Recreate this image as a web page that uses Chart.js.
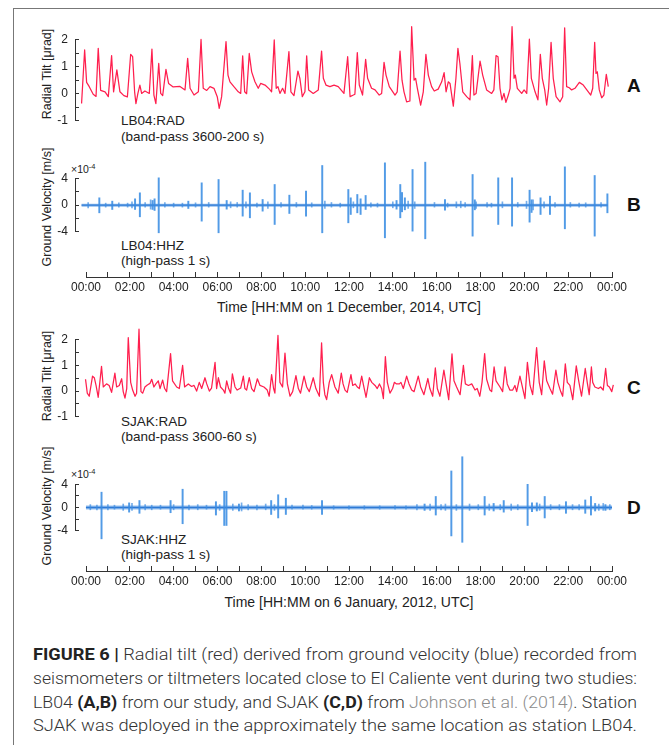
<!DOCTYPE html>
<html>
<head>
<meta charset="utf-8">
<script src="https://cdn.jsdelivr.net/npm/chart.js@4.4.1/dist/chart.umd.min.js"></script>
<style>
  html, body { margin: 0; padding: 0; }
  body { width: 669px; height: 745px; overflow: hidden; background: #fff; position: relative;
         font-family: "Liberation Sans", Arial, Helvetica, sans-serif; color: #222; }
  .frame { position: absolute; left: 13px; top: 8px; width: 720px; height: 800px;
           border-left: 1px solid #777; border-top: 1px solid #777; }
  canvas { position: absolute; left: 0; }
  .lbl { position: absolute; white-space: nowrap; line-height: 1; transform: translateY(-50%); font-size: 13.5px; color: #222; }
  .panel { position: absolute; font-weight: bold; font-size: 19px; line-height: 1; transform: translateY(-50%); color: #111; }
  .exp { position: absolute; font-size: 10.5px; line-height: 1; transform: translateY(-50%); color: #222; }
  .exp sup { font-size: 7.5px; vertical-align: 4px; }
  .ytitle { position: absolute; white-space: nowrap; line-height: 1; font-size: 12.5px; color: #222;
            transform: translate(-50%, -50%) rotate(-90deg); }
  .xtitle { position: absolute; white-space: nowrap; line-height: 1; font-size: 14px; color: #222;
            transform: translate(-50%, -50%); }
  .cap { position: absolute; left: 33px; white-space: nowrap; font-size: 17px; line-height: 1; color: #333;
         font-family: Roboto, "Liberation Sans", Arial, sans-serif; font-weight: 300;
         transform-origin: 0 50%; }
  .cap b { font-weight: bold; color: #222; }
  .cap .ref { color: #8c8c8c; }
</style>
</head>
<body>
<div class="frame"></div>

<div class="ytitle" style="left:47px;top:74px">Radial Tilt [μrad]</div>
<div class="ytitle" style="left:47px;top:207px">Ground Velocity [m/s]</div>
<div class="ytitle" style="left:47px;top:376px">Radial Tilt [μrad]</div>
<div class="ytitle" style="left:47px;top:506px">Ground Velocity [m/s]</div>

<div class="xtitle" style="left:349px;top:307px">Time [HH:MM on 1 December, 2014, UTC]</div>
<div class="xtitle" style="left:349px;top:602px">Time [HH:MM on 6 January, 2012, UTC]</div>

<div class="lbl" style="left:121px;top:120.5px">LB04:RAD</div>
<div class="lbl" style="left:121px;top:136.5px">(band-pass 3600-200 s)</div>
<div class="lbl" style="left:121px;top:246px">LB04:HHZ</div>
<div class="lbl" style="left:121px;top:261px">(high-pass 1 s)</div>
<div class="lbl" style="left:121px;top:421.5px">SJAK:RAD</div>
<div class="lbl" style="left:121px;top:437px">(band-pass 3600-60 s)</div>
<div class="lbl" style="left:121px;top:539.5px">SJAK:HHZ</div>
<div class="lbl" style="left:121px;top:555px">(high-pass 1 s)</div>

<div class="panel" style="left:627px;top:85px">A</div>
<div class="panel" style="left:627px;top:204px">B</div>
<div class="panel" style="left:627px;top:387px">C</div>
<div class="panel" style="left:627px;top:507px">D</div>

<div class="exp" style="left:71px;top:169px">×10<sup>-4</sup></div>
<div class="exp" style="left:71px;top:474px">×10<sup>-4</sup></div>

<div class="cap" style="top:646px"><b>FIGURE 6 |</b> Radial tilt (red) derived from ground velocity (blue) recorded from</div>
<div class="cap" style="top:670px">seismometers or tiltmeters located close to El Caliente vent during two studies:</div>
<div class="cap" style="top:693.5px">LB04 <b>(A,B)</b> from our study, and SJAK <b>(C,D)</b> from <span class="ref">Johnson et al. (2014)</span>. Station</div>
<div class="cap" style="top:717px">SJAK was deployed in the approximately the same location as station LB04.</div>

<script>
// ---- Radial tilt, LB04 (hours after 00:00 UTC, µrad) ----
const tiltA = [
  [-0.2,-0.36],[-0.06,1.62],[0.03,0.42],[0.15,0.26],[0.33,-0.02],[0.46,-0.1],[0.56,1.68],[0.67,0.12],[0.87,0.07],
  [1.02,-0.11],[1.17,1.41],[1.26,0.07],[1.41,0.88],[1.55,0.07],[1.73,-0.07],[1.89,-0.12],[2.04,1.46],[2.13,1.37],
  [2.22,0.07],[2.28,-0.37],[2.37,0.01],[2.46,0.32],[2.54,0.01],[2.69,0.1],[2.89,0.01],[3.01,1.65],[3.10,-0.05],
  [3.19,-0.37],[3.32,1.12],[3.41,0.01],[3.50,-0.07],[3.65,0.9],[3.77,0.38],[3.98,0.25],[4.29,0.27],[4.52,0.14],
  [4.64,1.31],[4.75,0.2],[4.93,-0.05],[5.13,0.07],[5.25,2.01],[5.35,0.2],[5.51,0.12],[5.66,0.26],[5.84,0.2],
  [5.99,-0.11],[6.08,-0.54],[6.19,-0.11],[6.39,1.93],[6.48,0.69],[6.57,0.44],[6.75,0.26],[6.95,0.07],[7.06,0.01],
  [7.15,1.4],[7.24,0.07],[7.33,0],[7.45,1.49],[7.56,0.81],[7.71,0.44],[7.86,0.2],[7.97,0.38],[8.17,0.32],[8.37,0.17],
  [8.47,0.07],[8.59,1.99],[8.68,0.2],[8.76,0.26],[8.85,0.01],[8.97,0.2],[9.08,0.01],[9.26,1.56],[9.35,0.07],
  [9.49,-0.07],[9.67,0.84],[9.76,0.57],[9.87,-0.11],[9.99,0.07],[10.07,1.4],[10.16,0.14],[10.37,0.01],[10.6,0.14],
  [10.75,1.58],[10.83,0.57],[10.95,0.32],[11.13,0.26],[11.32,0.32],[11.51,0.26],[11.77,0.01],[11.94,1.37],
  [12.05,-0.11],[12.2,-0.05],[12.27,-0.02],[12.38,1.52],[12.47,0.32],[12.62,-0.05],[12.76,1.27],[12.85,0.57],
  [13.03,0.2],[13.19,0.14],[13.38,-0.05],[13.49,0.01],[13.6,1.16],[13.69,0.69],[13.84,0.26],[14.1,-0.05],[14.2,0.07],
  [14.33,1.58],[14.42,0.5],[14.51,0.07],[14.63,-0.3],[14.78,-0.27],[14.86,2.48],[14.97,0.5],[15.04,0.57],[15.12,0.2],
  [15.27,-0.42],[15.39,0.07],[15.51,1.46],[15.62,0.69],[15.77,0.26],[15.89,0.1],[16.07,0.17],[16.23,0.44],
  [16.34,0.78],[16.43,0.07],[16.53,0.44],[16.61,0.38],[16.76,-0.46],[16.88,0.57],[16.97,1.68],[17.06,1.12],
  [17.19,0.07],[17.37,-0.11],[17.52,-0.23],[17.63,1.41],[17.7,-0.05],[17.8,0.01],[17.98,1.21],[18.1,0.69],
  [18.28,0.14],[18.51,0.01],[18.61,0.14],[18.71,1.41],[18.8,1.37],[18.89,0.2],[18.98,-0.23],[19.07,0.01],
  [19.16,-0.32],[19.27,-0.05],[19.35,0.2],[19.44,2.48],[19.53,0.57],[19.59,0.69],[19.68,0.2],[19.88,0.01],
  [19.99,0.14],[20.11,0.01],[20.23,2.02],[20.32,0.57],[20.49,0.07],[20.62,-0.23],[20.73,1.46],[20.82,0.57],
  [20.93,0.14],[21.02,-0.42],[21.11,0.2],[21.22,1.9],[21.32,0.57],[21.45,-0.11],[21.63,-0.3],[21.75,-0.11],
  [21.84,2.44],[21.93,0.26],[22.05,0.22],[22.16,0.14],[22.31,0.2],[22.51,0.42],[22.69,0.32],[22.92,0.07],
  [23.03,-0.05],[23.12,0.2],[23.21,1.9],[23.27,0.75],[23.33,0.81],[23.42,0.14],[23.53,-0.15],[23.63,-0.05],
  [23.74,0.72],[23.83,0.26]
];

// ---- Radial tilt, SJAK ----
const tiltC = [
  [-0.02,0.46],[0.06,-0.08],[0.15,-0.2],[0.30,0.58],[0.38,0.52],[0.46,0.22],[0.56,-0.24],[0.71,0.96],[0.79,0.16],
  [0.94,0.28],[1.06,0.22],[1.17,-0.05],[1.32,0.7],[1.40,0.16],[1.52,0.22],[1.63,0.48],[1.70,-0.02],[1.78,-0.27],
  [1.86,0.1],[1.93,2.08],[2.04,0.34],[2.13,0.04],[2.24,-0.2],[2.31,-0.08],[2.42,2.41],[2.51,-0.02],[2.59,-0.08],
  [2.69,0.16],[2.80,0.24],[2.92,0.3],[3.00,0.46],[3.10,0.16],[3.19,0.28],[3.30,0.4],[3.38,0.1],[3.50,0.43],
  [3.59,0.1],[3.68,-0.02],[3.86,1.46],[3.95,0.4],[4.14,0.16],[4.26,0.1],[4.41,1.0],[4.50,0.16],[4.67,0.28],
  [4.82,0.18],[4.93,0.22],[5.05,0],[5.17,0.34],[5.28,0.1],[5.43,0.52],[5.51,0.28],[5.63,0],[5.73,0.12],[5.89,1.12],
  [5.96,0.1],[6.04,0.52],[6.14,0.16],[6.27,0.04],[6.34,-0.08],[6.42,0.4],[6.51,0.1],[6.60,-0.08],[6.68,0.67],
  [6.80,0.16],[6.90,0.04],[7.06,0.12],[7.18,0.58],[7.25,0.1],[7.33,0.04],[7.45,0.52],[7.56,0.1],[7.67,-0.02],
  [7.82,0.48],[7.94,0.22],[8.12,0.16],[8.27,0.04],[8.36,-0.2],[8.47,0.64],[8.56,0.1],[8.62,-0.08],[8.76,2.17],
  [8.85,0.34],[8.97,0.16],[9.08,1.48],[9.19,0.28],[9.31,-0.2],[9.43,-0.02],[9.58,0.6],[9.69,0.1],[9.79,-0.08],
  [9.95,0.58],[10.07,0.16],[10.19,-0.02],[10.37,0.52],[10.49,0.1],[10.65,-0.2],[10.75,1.88],[10.83,0.34],
  [10.90,-0.14],[10.98,-0.33],[11.10,0.34],[11.21,0.64],[11.36,0.16],[11.51,-0.08],[11.65,0.7],[11.73,0.28],
  [11.82,0.04],[11.92,-0.05],[12.09,0.64],[12.17,0.22],[12.28,0.28],[12.38,0.16],[12.47,0.1],[12.58,0.58],
  [12.65,0.28],[12.78,-0.24],[12.93,0.52],[13.04,0.34],[13.19,0.22],[13.29,0.1],[13.39,0.28],[13.49,0.1],
  [13.57,-0.29],[13.66,1.34],[13.75,0.34],[13.87,-0.08],[13.99,0.1],[14.07,0.34],[14.17,0.28],[14.30,0.28],
  [14.37,0.34],[14.48,0.1],[14.63,0.58],[14.74,0.28],[14.86,0.04],[14.97,-0.02],[15.16,0.58],[15.27,0.16],
  [15.42,-0.14],[15.60,0.49],[15.69,0.1],[15.82,-0.2],[15.94,0.9],[16.03,0.1],[16.15,-0.2],[16.33,0.82],
  [16.43,0.28],[16.55,-0.33],[16.70,1.45],[16.79,0.4],[16.91,0.16],[17.07,-0.14],[17.22,1.0],[17.31,0.28],
  [17.45,0.22],[17.60,0.28],[17.75,0.04],[17.85,0.1],[17.97,-0.2],[18.07,0.34],[18.19,1.46],[18.28,0.46],
  [18.43,0.04],[18.51,-0.02],[18.62,0.94],[18.71,0.4],[18.89,0.16],[19.01,-0.02],[19.12,0.94],[19.22,0.28],
  [19.34,0.04],[19.47,0.04],[19.57,0.22],[19.65,-0.02],[19.80,0.58],[19.88,0.28],[20.03,-0.29],[20.14,1.12],
  [20.26,0.22],[20.38,-0.14],[20.56,1.69],[20.68,0.34],[20.79,-0.14],[20.91,1.18],[21.02,0.4],[21.17,0.1],
  [21.29,-0.12],[21.44,0.82],[21.53,0.34],[21.66,-0.02],[21.75,-0.2],[21.87,1.06],[21.96,0.34],[22.08,0.22],
  [22.21,-0.33],[22.37,0.98],[22.48,0.4],[22.61,-0.2],[22.78,0.88],[22.87,0.34],[22.96,-0.14],[23.06,0.94],
  [23.12,0.34],[23.22,0.16],[23.38,0.1],[23.48,0.16],[23.60,0.04],[23.71,0.88],[23.79,0.22],[23.88,0.16],
  [23.99,-0.02],[24.06,0.24]
];

// ---- Ground velocity events: [hour, peak up, peak down] in units of 1e-4 m/s ----
const eventsB = [
  [0.61,1.1,-1.15],[1.2,0.6,-0.65],[2.24,0.95,-0.65],[2.46,1.85,-1.75],[3.04,0.7,-0.65],[3.13,0.95,-0.8],
  [3.32,4.1,-4.15],[4.67,0.6,-0.5],[5.28,3.35,-2.4],[6.05,3.85,-4.15],[6.42,0.7,-0.6],[7.15,2.25,-1.65],
  [7.48,1.85,-1.9],[8.06,0.85,-0.9],[8.61,3.1,-2.9],[9.28,1.5,-1.25],[10.04,2.1,-1.65],[10.78,5.95,-4.15],
  [11.97,2.35,-2.65],[12.08,1.1,-1.4],[12.38,1.6,-1.15],[12.53,0.95,-1.4],[12.76,1.45,-0.65],[13.64,6.35,-4.9],
  [14.17,0.7,-0.6],[14.34,3.1,-1.9],[14.42,1.9,-1.0],[14.55,1.1,-0.7],[14.9,5.35,-3.9],[15.48,6.45,-5.05],
  [16.38,0.85,-0.75],[17.64,4.6,-4.65],[17.74,0.8,-0.7],[18.81,4.1,-2.9],[19.44,4.1,-3.15],[20.24,2.25,-2.55],
  [20.33,0.8,-1.1],[20.74,1.1,-1.4],[21.17,1.35,-1.4],[21.85,5.75,-3.55],[23.21,4.45,-4.65],[23.79,1.7,-1.15]
];
const noiseB = [
  [0.1,0.4,-0.4],[0.9,0.3,-0.3],[1.5,0.35,-0.3],[1.9,0.3,-0.3],[2.1,0.5,-0.4],[2.7,0.4,-0.3],[2.95,0.8,-0.6],
  [3.6,0.4,-0.3],[4.0,0.3,-0.3],[4.4,0.3,-0.3],[5.0,0.35,-0.3],[5.6,0.4,-0.3],[6.6,0.5,-0.4],[6.9,0.4,-0.3],
  [7.3,0.5,-0.4],[7.8,0.3,-0.3],[8.3,0.5,-0.5],[8.9,0.4,-0.3],[9.6,0.4,-0.3],[10.3,0.35,-0.3],[10.9,0.6,-0.5],
  [11.2,0.4,-0.3],[11.6,0.3,-0.3],[12.2,0.5,-0.4],[13.0,0.35,-0.3],[13.3,0.3,-0.3],[14.0,0.5,-0.4],[14.7,0.6,-0.5],
  [15.0,0.5,-0.5],[15.9,0.4,-0.3],[16.5,0.3,-0.3],[16.9,0.5,-0.4],[17.1,0.6,-0.4],[17.3,0.4,-0.3],[17.8,0.5,-0.5],
  [18.3,0.4,-0.3],[18.5,0.3,-0.3],[19.0,0.5,-0.4],[19.7,0.4,-0.3],[20.1,0.6,-0.5],[20.4,0.8,-0.7],[20.9,0.5,-0.4],
  [21.4,0.4,-0.3],[22.1,0.4,-0.3],[22.5,0.3,-0.3],[22.8,0.35,-0.3],[23.5,0.4,-0.3]
];
const eventsD = [
  [0.71,2.64,-5.4],[1.97,0.8,-0.8],[2.44,1.2,-1.0],[3.86,1.2,-0.9],[4.41,3.15,-2.8],[5.93,1.0,-1.3],
  [6.31,2.8,-3.1],[6.41,2.8,-3.1],[6.98,0.6,-0.6],[8.45,1.2,-1.2],[8.77,2.2,-1.8],[9.12,1.6,-1.2],
  [10.77,1.2,-1.2],[15.45,0.6,-0.5],[15.96,1.9,-1.3],[16.67,6.3,-4.9],[17.17,8.75,-6.0],[18.19,1.9,-1.3],
  [18.6,0.7,-0.6],[19.06,1.2,-0.8],[20.15,4.0,-3.1],[20.35,0.8,-0.7],[20.57,0.8,-0.6],[20.93,1.9,-1.8],
  [21.9,1.0,-1.0],[22.78,1.3,-1.0],[23.04,1.9,-1.3],[23.23,0.7,-0.6],[23.7,0.5,-0.5]
];
const noiseD = [
  [0.2,0.5,-0.4],[0.5,0.4,-0.4],[1.0,0.5,-0.4],[1.3,0.4,-0.3],[1.7,0.6,-0.5],[2.1,0.7,-0.5],[2.7,0.5,-0.4],
  [3.0,0.4,-0.4],[3.4,0.4,-0.3],[4.0,0.5,-0.4],[4.7,0.4,-0.4],[5.1,0.5,-0.4],[5.5,0.4,-0.3],[6.1,0.5,-0.5],
  [6.7,0.6,-0.5],[7.1,0.8,-0.6],[7.4,0.5,-0.4],[7.8,0.4,-0.4],[8.2,0.6,-0.4],[8.6,0.5,-0.5],[9.4,0.4,-0.3],
  [9.9,0.4,-0.3],[10.3,0.35,-0.3],[11.3,0.3,-0.3],[12.0,0.3,-0.3],[12.7,0.3,-0.3],[13.4,0.3,-0.3],[14.1,0.35,-0.3],
  [14.6,0.3,-0.3],[15.1,0.5,-0.4],[15.7,0.6,-0.5],[16.2,0.5,-0.4],[16.4,0.6,-0.5],[16.9,0.5,-0.5],[17.5,0.6,-0.5],
  [17.9,0.5,-0.4],[18.4,0.6,-0.5],[18.9,0.5,-0.4],[19.4,0.6,-0.5],[19.7,0.5,-0.4],[20.7,0.6,-0.5],[21.2,0.5,-0.4],
  [21.6,0.5,-0.4],[22.2,0.5,-0.4],[22.5,0.5,-0.4],[23.4,0.6,-0.5],[23.6,0.7,-0.5],[23.9,0.5,-0.4]
];
// Record spans (hours) for the velocity baselines
const spanB = [-0.2, 23.8];
const spanD = [0.0, 24.0];

// Axis tick settings
const tiltTicks = { min: -1, max: 2, step: 0.5, major: 1 };
const velTicks = { min: -4, max: 4, step: 2, major: 4 };
const hourTicks = { min: 0, max: 24, step: 1, major: 2 };

const RED = '#ff1f4e';
const BLUE_SPIKE = 'rgba(52,138,226,0.85)';
const BLUE_BASE = '#1c62c6';
const INK = '#333';

Chart.defaults.font.family = '"Liberation Sans", Arial, Helvetica, sans-serif';
Chart.defaults.color = '#222';

const W = 669, PLOT_L = 75, PLOT_R = 612;

function makeCanvas(top, h) {
  const c = document.createElement('canvas');
  c.width = W; c.height = h;
  c.style.top = top + 'px';
  document.body.appendChild(c);
  return c;
}

const pts = arr => arr.map(([x, y]) => ({ x, y }));
const bars = arr => arr.map(([x, hi, lo]) => ({ x, y: [lo, hi] }));

function panel(o) {
  const c = makeCanvas(o.top, o.height);
  const tk = o.ticks;
  return new Chart(c, {
    type: 'line',
    data: { datasets: o.datasets },
    options: {
      responsive: false, animation: false, devicePixelRatio: 1, events: [],
      layout: { padding: { left: 30, right: W - PLOT_R, top: o.plotTop - o.top, bottom: o.top + o.height - o.plotBottom } },
      plugins: { legend: { display: false }, tooltip: { enabled: false } },
      scales: {
        x: { type: 'linear', min: -0.5, max: 24, display: false, offset: false },
        y: {
          type: 'linear', min: tk.min, max: tk.max,
          afterFit: s => { s.width = PLOT_L - 30; },
          border: { display: true, color: INK, width: 1 },
          grid: { drawOnChartArea: false, drawTicks: true, tickLength: -4, color: INK, lineWidth: 1 },
          ticks: {
            stepSize: tk.step, padding: 11, font: { size: 12 }, color: '#222', autoSkip: false,
            callback: v => (Math.abs(v % tk.major) < 1e-9 ? String(v) : '')
          }
        }
      }
    }
  });
}

function timeAxis(lineY) {
  const c = makeCanvas(lineY - 10, 40);
  return new Chart(c, {
    type: 'line',
    data: { datasets: [] },
    options: {
      responsive: false, animation: false, devicePixelRatio: 1, events: [],
      layout: { padding: { left: 86, right: W - PLOT_R, top: 0, bottom: 0 } },
      plugins: { legend: { display: false }, tooltip: { enabled: false } },
      scales: {
        y: { display: false, min: 0, max: 1 },
        x: {
          type: 'linear', position: 'bottom', min: hourTicks.min, max: hourTicks.max, offset: false,
          afterFit: s => { s.height = 30; },
          border: { display: true, color: INK, width: 1 },
          grid: { drawOnChartArea: false, drawTicks: true, tickLength: -5, color: INK },
          ticks: {
            stepSize: hourTicks.step, autoSkip: false, maxRotation: 0, padding: 8, font: { size: 12 }, color: '#222',
            callback: v => (v % hourTicks.major === 0 ? String(v % 24).padStart(2, '0') + ':00' : '')
          }
        }
      }
    }
  });
}

function tiltSet(data) {
  return { type: 'line', data: pts(data), borderColor: RED, borderWidth: 1.25, pointRadius: 0,
           tension: 0, clip: false, borderJoinStyle: 'round' };
}
function velSets(events, noise, span, bandWidth) {
  return [
    { type: 'line', data: pts([[span[0], 0], [span[1], 0]]), borderColor: 'rgba(60,140,225,0.55)',
      borderWidth: bandWidth, pointRadius: 0, clip: false },
    { type: 'bar', data: bars(noise), backgroundColor: 'rgba(60,140,225,0.7)', barThickness: 1, grouped: false, clip: false },
    { type: 'bar', data: bars(events), backgroundColor: BLUE_SPIKE, barThickness: 1.3, grouped: false, clip: false },
    { type: 'line', data: pts([[span[0], 0], [span[1], 0]]), borderColor: BLUE_BASE,
      borderWidth: 1.4, pointRadius: 0, clip: false }
  ];
}

// A: 0 at y=93.7, 27 px per µrad
panel({ top: 0, height: 140, plotTop: 39.7, plotBottom: 120.7, ticks: tiltTicks, datasets: [tiltSet(tiltA)] });
// B
panel({ top: 150, height: 100, plotTop: 178.5, plotBottom: 232.5, ticks: velTicks, datasets: velSets(eventsB, noiseB, spanB, 3) });
timeAxis(276.5);
// C
panel({ top: 320, height: 115, plotTop: 339.7, plotBottom: 421.6, ticks: tiltTicks, datasets: [tiltSet(tiltC)] });
// D
panel({ top: 445, height: 105, plotTop: 484.3, plotBottom: 530.7, ticks: velTicks, datasets: velSets(eventsD, noiseD, spanD, 4) });
timeAxis(570.7);

// Caption lines are set to a common measure
document.querySelectorAll('.cap').forEach(el => {
  const w = el.getBoundingClientRect().width;
  const target = 604;
  el.style.transform = 'scaleX(' + (target / w).toFixed(4) + ')';
});
</script>
</body>
</html>
